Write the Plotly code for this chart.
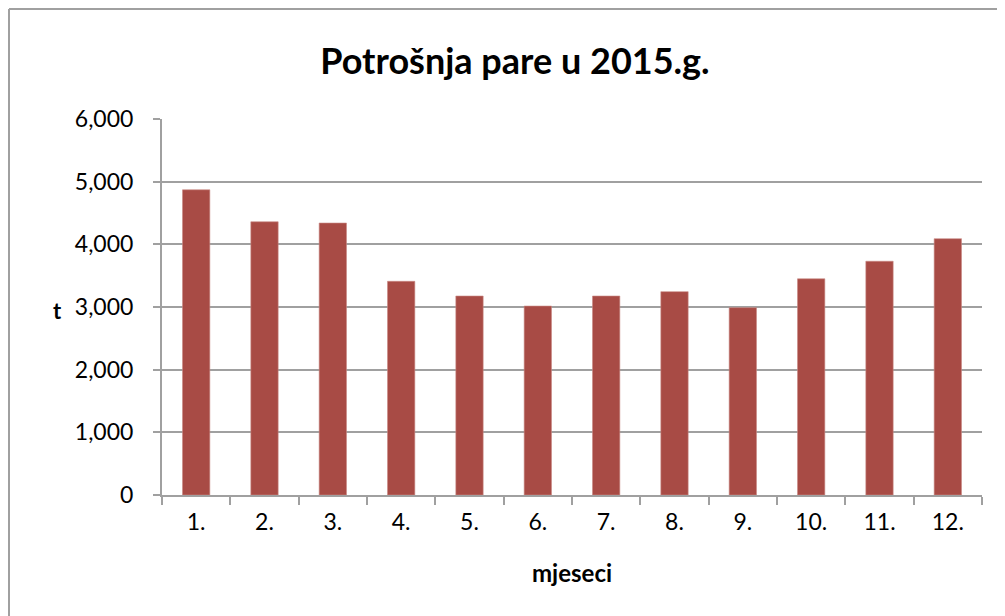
import plotly.graph_objects as go

months = ["1.", "2.", "3.", "4.", "5.", "6.", "7.", "8.", "9.", "10.", "11.", "12."]
steam_t = [4870, 4360, 4340, 3410, 3175, 3015, 3175, 3245, 2990, 3450, 3730, 4090]
y_ticks = [0, 1000, 2000, 3000, 4000, 5000, 6000]

# page has an 8px body margin; size the figure to fit the 1005x616 window
W, H = 997, 608
L, R, T, B = 154, 23, 111, 121
pw, ph = W - L - R, H - T - B

def px_x(x):
    return (x - L) / pw

def px_y(y):
    return 1 - (y - T) / ph

fig = go.Figure(go.Bar(
    x=months, y=steam_t,
    marker=dict(color="#a84b45", line=dict(color="#c98a85", width=0.6)),
    width=0.4,
))

grid = "#a0a0a0"
fig.update_layout(
    width=W, height=H,
    margin=dict(l=L, r=R, t=T, b=B),
    paper_bgcolor="white", plot_bgcolor="white",
    showlegend=False,
    font=dict(family="Lato, Carlito, sans-serif", color="black"),
    title=dict(text="<b>Potrošnja pare u 2015.g.</b>", x=507 / W, xref="container",
               xanchor="center", y=1 - 53 / H, yref="container", yanchor="middle",
               font=dict(size=36, family="Lato, sans-serif", color="black")),
    bargap=0.6,
)
fig.update_xaxes(
    type="category", showgrid=False, showline=True, linecolor=grid, linewidth=2,
    ticks="outside", tickson="boundaries", ticklen=8, tickcolor=grid, tickwidth=1.5,
    tickfont=dict(size=23), ticklabelstandoff=5,
)
fig.update_yaxes(
    range=[0, 6000], tickvals=y_ticks, tickformat=",",
    showgrid=True, gridcolor=grid, gridwidth=2,
    showline=True, linecolor=grid, linewidth=2,
    ticks="outside", ticklen=7, tickcolor=grid, tickwidth=1.5,
    tickfont=dict(size=23), ticklabelstandoff=15, zeroline=False,
)

# axis titles (Excel style: horizontal "t")
fig.add_annotation(text="<b>t</b>", xref="paper", yref="paper",
                   x=px_x(49), y=px_y(302), showarrow=False,
                   xanchor="center", yanchor="middle", font=dict(size=22))
fig.add_annotation(text="<b>mjeseci</b>", xref="paper", yref="paper",
                   x=px_x(564), y=px_y(564), showarrow=False,
                   xanchor="center", yanchor="middle", font=dict(size=24))

# outer chart-area frame, open to the right/bottom edges
fig.add_shape(type="line", xref="paper", yref="paper",
              x0=px_x(1), x1=px_x(W + 10), y0=px_y(1), y1=px_y(1),
              line=dict(color=grid, width=2))
fig.add_shape(type="line", xref="paper", yref="paper",
              x0=px_x(1), x1=px_x(1), y0=px_y(1), y1=px_y(H + 10),
              line=dict(color=grid, width=2))

fig.write_html("out.html")
